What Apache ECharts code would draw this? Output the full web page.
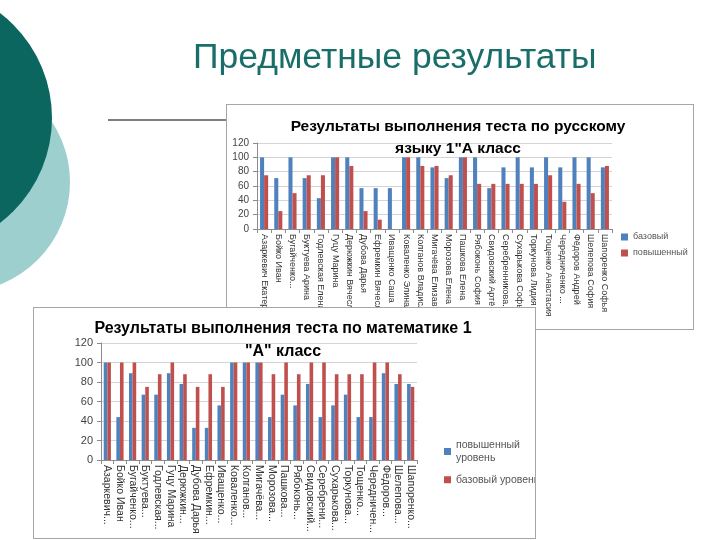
<!DOCTYPE html>
<html>
<head>
<meta charset="utf-8">
<script src="https://cdn.jsdelivr.net/npm/echarts@6/dist/echarts.min.js"></script>
<style>
  html, body { margin: 0; padding: 0; background: #fff; }
  #slide { position: absolute; left: 0; top: 0; width: 720px; height: 540px; }
  .box { position: absolute; background: #fff; border: 1.5px solid #a6a6a6; box-sizing: border-box; overflow: hidden; }
  #rus { left: 226px; top: 104px; width: 468px; height: 226px; z-index: 2; }
  #math { left: 33px; top: 307px; width: 503px; height: 232px; z-index: 3; }
</style>
</head>
<body>
<div id="slide"></div>
<div id="rus" class="box"></div>
<div id="math" class="box"></div>
<script>
const rusNames = [
  'Азаркевич Екатерина', 'Бойко Иван', 'Бугайченко...', 'Буктуева Арина', 'Годлевская Елена',
  'Гуцу Марина', 'Дерюжкин Вячеслав', 'Дубова Дарья', 'Ефремкин Вячеслав', 'Иващенко Саша',
  'Коваленко Элина', 'Колганов Владислав', 'Мигачёва Елизавета', 'Морозова Елена', 'Пашкова Елена',
  'Рябоконь София', 'Свидовский Артём', 'Серебренникова...', 'Сухарькова Софья', 'Торкунова Лидия',
  'Тощенко Анастасия', 'Чередниченко ...', 'Фёдоров Андрей', 'Шелепова София', 'Шапоренко Софья'
];
const rusBase = [100, 71, 100, 71, 43, 100, 100, 57, 57, 57, 100, 100, 86, 71, 100, 100, 57, 86, 100, 86, 100, 86, 100, 100, 86];
const rusHigh = [75, 25, 50, 75, 75, 100, 88, 25, 13, 0, 100, 88, 88, 75, 100, 63, 63, 63, 63, 63, 75, 38, 63, 50, 88];

const mathNames = [
  'Азаркевич...', 'Бойко Иван', 'Бугайченко...', 'Буктуева...', 'Годлевская...',
  'Гуцу Марина', 'Дерюжкин...', 'Дубова Дарья', 'Ефремкин...', 'Иващенко...',
  'Коваленко...', 'Колганов...', 'Мигачёва...', 'Морозова...', 'Пашкова...',
  'Рябоконь...', 'Свидовский...', 'Серебрени...', 'Сухарькова...', 'Торкунова...',
  'Тощенко...', 'Чередничен...', 'Фёдоров...', 'Шелепова...', 'Шапоренко...'
];
const mathHigh = [100, 44, 89, 67, 67, 89, 78, 33, 33, 56, 100, 100, 100, 44, 67, 56, 78, 44, 56, 67, 44, 44, 89, 78, 78];
const mathBase = [100, 100, 100, 75, 88, 100, 88, 75, 88, 75, 100, 100, 100, 88, 100, 88, 100, 100, 88, 88, 88, 100, 100, 88, 75];

const yTicks = [0, 20, 40, 60, 80, 100, 120];

const BLUE = '#4f81bd';
const RED = '#c0504d';
const FONT = '"Liberation Sans", Arial, sans-serif';

// slide background: circles, title, rule
const slide = echarts.init(document.getElementById('slide'));
slide.setOption({
  animation: false,
  graphic: [
    { type: 'circle', shape: { cx: -40, cy: 182, r: 110 }, style: { fill: '#9dcfcf' } },
    { type: 'circle', shape: { cx: -80, cy: 118, r: 132 }, style: { fill: '#0b6660' } },
    {
      type: 'text', left: 193, top: 40,
      style: { text: 'Предметные результаты', fill: '#1a6e6a', font: '35.5px ' + FONT }
    },
    { type: 'line', shape: { x1: 108, y1: 120, x2: 230, y2: 120 }, style: { stroke: '#555', lineWidth: 1.5 } }
  ]
});

function barChart(el, cfg) {
  const chart = echarts.init(el);
  chart.setOption({
    animation: false,
    backgroundColor: '#fff',
    title: {
      text: cfg.title,
      left: cfg.titleX,
      top: cfg.titleY,
      textAlign: 'center',
      textStyle: { fontFamily: FONT, fontSize: cfg.titleSize, fontWeight: 'bold', color: '#000', lineHeight: cfg.titleLH }
    },
    legend: {
      orient: 'vertical',
      left: cfg.legendX,
      top: cfg.legendY,
      itemWidth: 7,
      itemHeight: 7,
      itemGap: cfg.legendGap,
      icon: 'rect',
      formatter: cfg.legendFmt,
      textStyle: { fontFamily: FONT, fontSize: cfg.legendSize, color: '#555', lineHeight: cfg.legendSize + 3 }
    },
    grid: cfg.grid,
    xAxis: {
      type: 'category',
      data: cfg.names,
      axisLine: { lineStyle: { color: '#8c8c8c' } },
      axisTick: { show: true, length: 4, lineStyle: { color: '#8c8c8c' } },
      axisLabel: {
        interval: 0, rotate: -90, margin: 5,
        fontFamily: FONT, fontSize: cfg.labelSize, color: '#333'
      }
    },
    yAxis: {
      type: 'value',
      min: yTicks[0],
      max: yTicks[yTicks.length - 1],
      interval: 20,
      axisLine: { show: true, lineStyle: { color: '#8c8c8c' } },
      axisTick: { show: true, length: 4, lineStyle: { color: '#8c8c8c' } },
      axisLabel: { margin: 8, fontFamily: FONT, fontSize: cfg.yLabelSize, color: '#444' },
      splitLine: { lineStyle: { color: '#d4d4d4' } }
    },
    series: cfg.series.map(s => ({
      name: s.name,
      type: 'bar',
      data: s.data,
      barGap: '0%',
      barCategoryGap: '43%',
      itemStyle: { color: s.color }
    }))
  });
  return chart;
}

barChart(document.getElementById('rus'), {
  title: 'Результаты выполнения теста по русскому\nязыку 1"А класс',
  titleX: 226, titleY: 6, titleSize: 15.5, titleLH: 22,
  legendX: 389, legendY: 121, legendGap: 4, legendSize: 9,
  legendFmt: name => name,
  grid: { left: 30, top: 38, width: 355, height: 86 },
  names: rusNames,
  labelSize: 9,
  yLabelSize: 10,
  series: [
    { name: 'базовый', data: rusBase, color: BLUE },
    { name: 'повышенный', data: rusHigh, color: RED }
  ]
});

barChart(document.getElementById('math'), {
  title: 'Результаты выполнения теста по математике 1\n"А" класс',
  titleX: 244, titleY: 4, titleSize: 16, titleLH: 23,
  legendX: 405, legendY: 125, legendGap: 8, legendSize: 10.5,
  legendFmt: name => name.replace('повышенный ', 'повышенный\n'),
  grid: { left: 67, top: 35, width: 316, height: 117 },
  names: mathNames,
  labelSize: 10.5,
  yLabelSize: 11,
  series: [
    { name: 'повышенный уровень', data: mathHigh, color: BLUE },
    { name: 'базовый уровень', data: mathBase, color: RED }
  ]
});
</script>
</body>
</html>
